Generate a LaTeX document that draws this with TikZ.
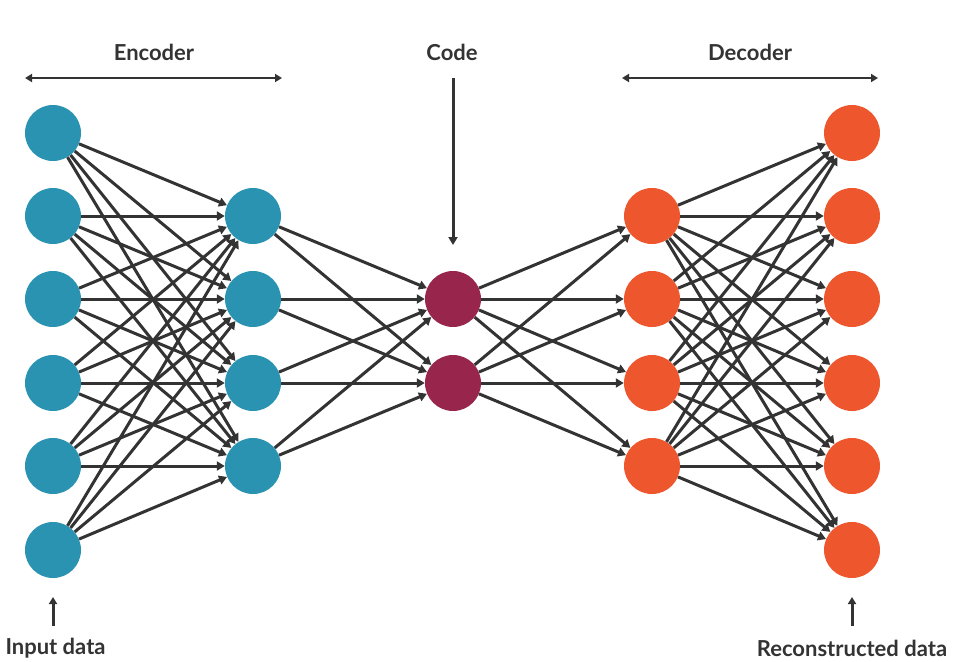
\documentclass[tikz,border=0pt]{standalone}
\usepackage{fontspec}
\setmainfont{Lato}
\usetikzlibrary{arrows.meta}
\definecolor{enc}{RGB}{42,147,178}
\definecolor{cod}{RGB}{152,38,76}
\definecolor{dec}{RGB}{238,86,45}
\definecolor{ln}{RGB}{51,51,51}
\tikzset{
  neuron/.style={circle,minimum size=56pt,inner sep=0pt,draw=none},
  conn/.style={draw=ln,line width=3pt,-{Triangle[length=8pt,width=9pt]}},
  lbl/.style={text=ln,font=\fontsize{22}{26}\selectfont\bfseries},
  dim/.style={draw=ln,line width=2.8pt,{Triangle[length=7pt,width=8pt]}-{Triangle[length=7pt,width=8pt]}},
}
\begin{document}
\begin{tikzpicture}[x=1pt,y=-1pt]
\useasboundingbox (0,0) rectangle (958,661);
% layers
\foreach \i/\y in {1/133,2/216,3/299,4/383,5/466,6/550} {
  \node[neuron,fill=enc] (a\i) at (53,\y) {};
  \node[neuron,fill=dec] (e\i) at (852,\y) {};
}
\foreach \i/\y in {1/216,2/299,3/383,4/466} {
  \node[neuron,fill=enc] (b\i) at (253,\y) {};
  \node[neuron,fill=dec] (d\i) at (652,\y) {};
}
\node[neuron,fill=cod] (c1) at (453,299) {};
\node[neuron,fill=cod] (c2) at (453,383) {};
% connections
\foreach \i in {1,...,6} \foreach \j in {1,...,4} \draw[conn] (a\i) -- (b\j);
\foreach \i in {1,...,4} \foreach \j in {1,2} \draw[conn] (b\i) -- (c\j);
\foreach \i in {1,2} \foreach \j in {1,...,4} \draw[conn] (c\i) -- (d\j);
\foreach \i in {1,...,4} \foreach \j in {1,...,6} \draw[conn] (d\i) -- (e\j);
% labels
\node[lbl] (tenc) at (154,52) {Encoder};
\node[lbl] (tcod) at (452,52) {Code};
\node[lbl] (tdec) at (750,52) {Decoder};
\coordinate (el) at (25,78); \coordinate (er) at (282,78);
\coordinate (dl) at (622,78); \coordinate (dr) at (878,78);
\draw[dim] (el) -- (er);
\draw[dim] (dl) -- (dr);
\coordinate (ct) at (453,78); \coordinate (cb) at (453,245);
\draw[conn] (ct) -- (cb);
\node[lbl,anchor=west] (tin) at (2,648) {Input data};
\node[lbl] (tout) at (852,648) {Reconstructed data};
\coordinate (ib) at (53,626); \coordinate (it) at (53,597);
\coordinate (ob) at (852,626); \coordinate (ot) at (852,597);
\draw[conn,-{Triangle[length=7pt,width=8pt]}] (ib) -- (it);
\draw[conn,-{Triangle[length=7pt,width=8pt]}] (ob) -- (ot);
\end{tikzpicture}
\end{document}
